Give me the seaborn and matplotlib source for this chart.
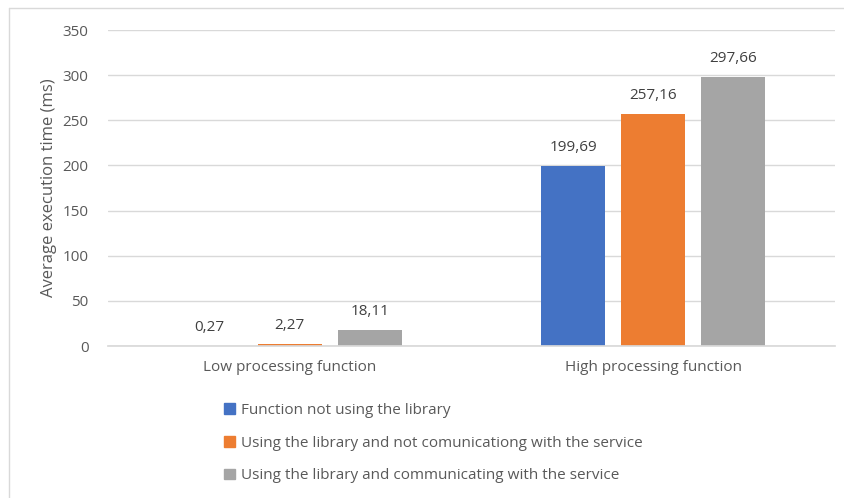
import matplotlib
matplotlib.use("Agg")
import matplotlib.pyplot as plt
import matplotlib.patches as mpatches
import seaborn as sns
import pandas as pd

categories = ["Low processing function", "High processing function"]
series_names = [
    "Function not using the library",
    "Using the library and not comunicationg with the service",
    "Using the library and communicating with the service",
]
no_library = [0.27, 199.69]
library_no_service = [2.27, 257.16]
library_with_service = [18.11, 297.66]
y_ticks = [0, 50, 100, 150, 200, 250, 300, 350]

colors = ["#4472C4", "#ED7D31", "#A5A5A5"]
text_color = "#595959"

rows = []
for name, vals in zip(series_names, [no_library, library_no_service, library_with_service]):
    for cat, v in zip(categories, vals):
        rows.append({"category": cat, "series": name, "value": v})
df = pd.DataFrame(rows)

sns.set_theme(style="white")
plt.rcParams["font.family"] = ["Open Sans", "DejaVu Sans"]

fig = plt.figure(figsize=(8.44, 4.98), dpi=100)
W, H = 844, 498
ax = fig.add_axes([108 / W, 1 - 346 / H, (835 - 108) / W, (346 - 30) / H])

sns.barplot(
    data=df, x="category", y="value", hue="series", hue_order=series_names,
    order=categories, palette=colors, width=0.66, gap=0.2, ax=ax,
    legend=False, saturation=1, errorbar=None, linewidth=0,
)

for cont in ax.containers:
    labels = [f"{v:.2f}".replace(".", ",") for v in cont.datavalues]
    ax.bar_label(cont, labels=labels, padding=8, fontsize=11, color="#404040")

ax.set_xlim(-0.5, 1.5)
ax.set_ylim(0, 350)
ax.set_yticks(y_ticks)
ax.yaxis.grid(True, color="#D9D9D9", linewidth=1)
ax.set_axisbelow(True)
for s in ["top", "right", "left"]:
    ax.spines[s].set_visible(False)
ax.spines["bottom"].set_color("#D9D9D9")
ax.tick_params(axis="both", length=0, labelsize=11, labelcolor=text_color)
ax.tick_params(axis="y", pad=14)
ax.tick_params(axis="x", pad=10)
ax.set_xlabel("")
ax.set_ylabel("Average execution time (ms)", fontsize=12, color=text_color, labelpad=4)

handles = [mpatches.Patch(color=c, label=n) for c, n in zip(colors, series_names)]
leg = fig.legend(
    handles=handles, loc="upper left", bbox_to_anchor=(218 / W, 1 - 397 / H),
    frameon=False, fontsize=11, labelcolor=text_color, handlelength=0.7,
    handleheight=0.7, handletextpad=0.4, labelspacing=1.15, borderaxespad=0,
)

# light chart-area frame along the top and left edges
fig.add_artist(plt.Line2D([9 / W, 1], [1 - 8 / H, 1 - 8 / H], color="#D9D9D9", lw=1))
fig.add_artist(plt.Line2D([9 / W, 9 / W], [0, 1 - 8 / H], color="#D9D9D9", lw=1))

fig.savefig("out.png", dpi=100)
